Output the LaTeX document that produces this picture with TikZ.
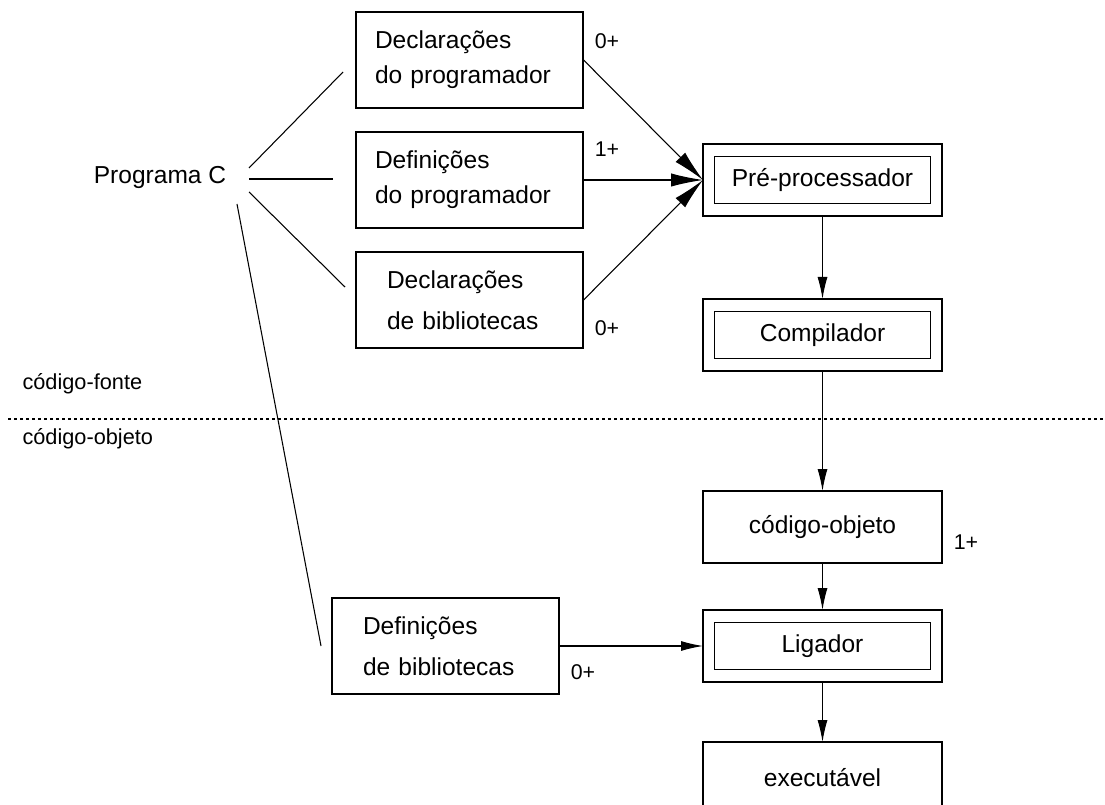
\documentclass[tikz,border=0pt]{standalone}
\usepackage{fontspec}
\setmainfont{Liberation Sans}
\usetikzlibrary{arrows.meta,positioning}
\tikzstyle{src}=[rectangle,draw=black,line width=.8pt,minimum height=72pt,
                 inner ysep=0pt,inner xsep=14.25pt,text width=141.75pt,align=left]
\tikzstyle{lib}=[src,inner xsep=23.25pt,text width=123.75pt]
\tikzstyle{stage}=[rectangle,draw=black,line width=.8pt,minimum width=179.25pt,
                   minimum height=54pt,inner sep=0pt,outer sep=0pt]
\tikzstyle{stagein}=[rectangle,draw=black,line width=.8pt,minimum width=162pt,
                     minimum height=35.25pt,inner sep=0pt]
\tikzstyle{mult}=[font=\fontsize{16}{19}\selectfont,inner sep=0pt]
\tikzstyle{zone}=[font=\fontsize{16.3}{19}\selectfont,inner sep=0pt,anchor=base west]
\tikzstyle{line}=[black,line width=.8pt]
\tikzstyle{big}=[-{Latex[length=24pt,width=10pt]}]

\begin{document}
\begin{tikzpicture}[x=.75pt,y=-.75pt,->,>={Latex[length=16.5pt,width=7.5pt]},
                    line width=.8pt,font=\fontsize{18.4}{26.25}\selectfont]
	\clip (0,0) rectangle (1105,805);

	% codigo-fonte
	\node[inner sep=0pt] (prog) at (160,177) {Programa C};
	\node[src] (decprog) at (469.5,60) {Declarações\\do programador};
	\node[src] (defprog) at (469.5,180) {Definições\\do programador};
	\node[lib] (decbib) at (469.5,300) {Declarações\\[4.5pt]de bibliotecas};
	\node[lib] (defbib) at (445.5,646) {Definições\\[4.5pt]de bibliotecas};

	% etapas
	\node[stage] (pre) at (822.5,180) {};
	\node[stagein] (prein) at (pre.center) {Pré-processador};
	\node[stage] (comp) [below=62.25pt of pre] {};
	\node[stagein] (compin) at (comp.center) {Compilador};
	\node[stage] (obj) [below=90pt of comp] {código-objeto};
	\node[stage] (lig) at (822.5,646) {};
	\node[stagein] (ligin) at (lig.center) {Ligador};
	\node[stage] (exe) [below=45pt of lig] {executável};

	% multiplicidades
	\node[mult] (m1) at (607,41) {0+};
	\node[mult] (m2) at (607,149) {1+};
	\node[mult] (m3) at (607,328) {0+};
	\node[mult] (m4) at (966,542) {1+};
	\node[mult] (m5) at (583,672) {0+};

	% separador
	\node[zone] (fonte) at (22,389) {código-fonte};
	\node[zone] (objeto) at (22,444) {código-objeto};
	\coordinate (sepa) at (8,419);
	\coordinate (sepb) at (1105,419);
	\draw[-,line,dash pattern=on 2.25pt off 2.25pt] (sepa) -- (sepb);

	% ramos do programa
	\coordinate (f1) at (249,168);  \coordinate (t1) at (343,72);
	\coordinate (f2) at (249,179);  \coordinate (t2) at (333,179);
	\coordinate (f3) at (249,192);  \coordinate (t3) at (345,287);
	\coordinate (f4) at (237,204);  \coordinate (t4) at (321,646);
	\draw[-,line] (f1) -- (t1);
	\draw[-,line] (f2) -- (t2);
	\draw[-,line] (f3) -- (t3);
	\draw[-,line] (f4) -- (t4);

	\path[line]
		(decprog.east) edge[big] (pre.west)
		(defprog.east) edge[big] (pre.west)
		(decbib.east)  edge[big] (pre.west)
		(pre)  edge (comp)
		(comp) edge (obj)
		(obj)  edge (lig)
		(lig)  edge (exe)
		(defbib.east) edge (defbib.east -| lig.west);
\end{tikzpicture}
\end{document}
